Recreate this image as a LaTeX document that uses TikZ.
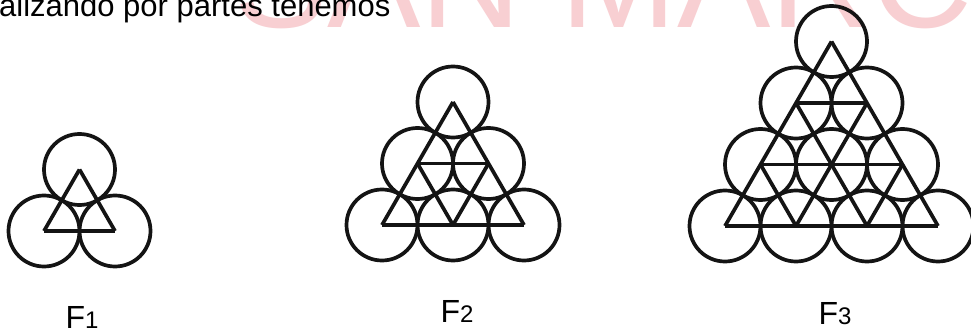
\documentclass[tikz,border=0pt]{standalone}
\usepackage{fontspec}
\setmainfont{Liberation Sans}
\usepackage{tikz}
\usetikzlibrary{positioning}
\definecolor{marcarosa}{RGB}{248, 207, 210}
\definecolor{trazo}{RGB}{20, 20, 20}

% figura triangular: apice (#1,#2), orden #3
\newcommand{\dibujarF}[3]{%
  \begin{scope}[shift={(#1,#2)}]
    % circulos en los vertices
    \foreach \i in {0,...,#3}{
      \foreach \j in {0,...,\i}{
        \draw[linea] ({(\j-\i/2)*\paso}, {-\i*\alto}) circle (\radio);
      }
    }
    % horizontales
    \foreach \i in {1,...,#3}{
      \draw[linea] ({-\i*\paso/2}, {-\i*\alto}) -- ({\i*\paso/2}, {-\i*\alto});
    }
    % paralelas a los lados
    \foreach \m in {0,...,\numexpr#3-1\relax}{
      \draw[linea] ({\m*\paso/2}, {-\m*\alto}) -- ({(\m-#3/2)*\paso}, {-#3*\alto});
      \draw[linea] ({-\m*\paso/2}, {-\m*\alto}) -- ({(#3/2-\m)*\paso}, {-#3*\alto});
    }
  \end{scope}%
}
\newcommand{\paso}{71}
\newcommand{\alto}{61.5}
\newcommand{\radio}{35.5}

\begin{document}
\begin{tikzpicture}[x=1pt, y=1pt,
    linea/.style={trazo, line width=3.7pt},
    etiqueta/.style={anchor=base, inner sep=0pt, font=\fontsize{32}{32}\selectfont}]
  \useasboundingbox (0,0) rectangle (971,327);
  \clip (0,0) rectangle (971,327);
  \fill[white] (0,0) rectangle (971,327);

  % marca de agua
  \node[marcarosa, anchor=base west, inner sep=0pt,
        font=\fontsize{140}{140}\selectfont] (marca) at (234, 299) {SAN MARC};

  % encabezado
  \node[anchor=base west, inner sep=0pt, font=\fontsize{31}{31}\selectfont]
    (titulo) at (-1, 310) {alizando por partes tenemos};

  % F1, F2, F3
  \dibujarF{79.5}{157.5}{1}
  \dibujarF{453}{225}{2}
  \dibujarF{831.5}{285.5}{3}

  % etiquetas
  \node[etiqueta] (f1) at (82, -1) {F{\fontsize{24}{24}\selectfont 1}};
  \node[etiqueta] (f2) at (457, 5) {F{\fontsize{24}{24}\selectfont 2}};
  \node[etiqueta] (f3) at (835, 3) {F{\fontsize{24}{24}\selectfont 3}};
\end{tikzpicture}
\end{document}
